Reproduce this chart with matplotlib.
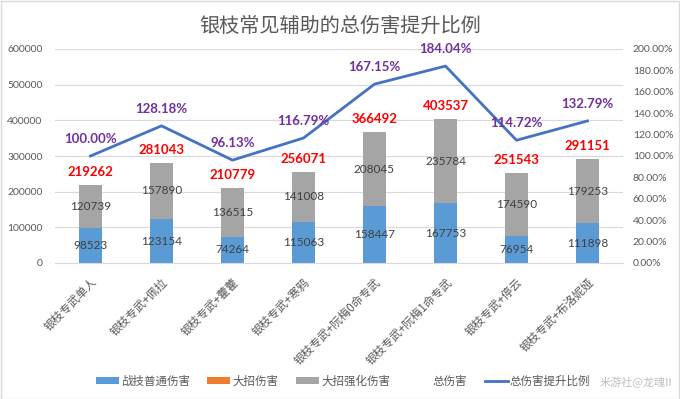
import numpy as np
import matplotlib
matplotlib.use("Agg")
import matplotlib.pyplot as plt
from matplotlib.patches import Patch, Rectangle
from matplotlib.lines import Line2D
from matplotlib.ticker import FuncFormatter, MultipleLocator

plt.rcParams['font.family'] = ['Noto Sans CJK SC', 'DejaVu Sans']

categories = ["银枝专武单人", "银枝专武+佩拉", "银枝专武+藿藿", "银枝专武+寒鸦",
              "银枝专武+阮梅0命专武", "银枝专武+阮梅1命专武", "银枝专武+停云", "银枝专武+布洛妮娅"]
skill_dmg = [98523, 123154, 74264, 115063, 158447, 167753, 76954, 111898]
ult_dmg = [0, 0, 0, 0, 0, 0, 0, 0]
ult_enh_dmg = [120739, 157890, 136515, 141008, 208045, 235784, 174590, 179253]
total_dmg = [219262, 281043, 210779, 256071, 366492, 403537, 251543, 291151]
increase_pct = [100.00, 128.18, 96.13, 116.79, 167.15, 184.04, 114.72, 132.79]

series_names = ["战技普通伤害", "大招伤害", "大招强化伤害", "总伤害", "总伤害提升比例"]
title = "银枝常见辅助的总伤害提升比例"
watermark = "米游社@龙魂II"

c_blue = "#5B9BD5"
c_orange = "#ED7D31"
c_gray = "#A5A5A5"
c_line = "#4472C4"
c_text = "#595959"
c_grid = "#D9D9D9"
num_font = "Lato"

fig = plt.figure(figsize=(6.8, 3.99), dpi=100)
fig.patch.set_facecolor("white")
fig.patches.append(Rectangle((0.5/680, 0.5/399), 1 - 1.5/680, 1 - 1.5/399, transform=fig.transFigure,
                             fill=False, edgecolor=c_grid, linewidth=1.0))

ax = fig.add_axes([55/680, 136/399, 568/680, 214/399])
x = np.arange(len(categories))
w = 0.31
blue = np.array(skill_dmg)
orange = np.array(ult_dmg)
gray = np.array(ult_enh_dmg)

ax.bar(x, blue, w, color=c_blue, zorder=2)
ax.bar(x, orange, w, bottom=blue, color=c_orange, zorder=2)
ax.bar(x, gray, w, bottom=blue + orange, color=c_gray, zorder=2)

ax.set_xlim(-0.5, len(categories) - 0.5)
ax.set_ylim(0, 600000)
ax.yaxis.set_major_locator(MultipleLocator(100000))
ax.yaxis.grid(True, color=c_grid, linewidth=0.8)
ax.set_axisbelow(True)
for s in ["top", "left", "right"]:
    ax.spines[s].set_visible(False)
ax.spines["bottom"].set_color(c_grid)
ax.tick_params(axis="both", length=0)
ax.tick_params(axis="y", pad=9, labelcolor=c_text)
for lab in ax.get_yticklabels():
    lab.set_fontfamily(num_font)
    lab.set_fontsize(7.5)
ax.set_xticks(x)
ax.set_xticklabels(categories, rotation=45, ha="right", rotation_mode="anchor",
                   fontsize=8.3, color=c_text)
ax.tick_params(axis="x", pad=9)

for i in range(len(categories)):
    ax.text(x[i], blue[i] / 2, f"{skill_dmg[i]}", ha="center", va="center",
            fontsize=8.5, color="#404040", family=num_font, zorder=3)
    ax.text(x[i], blue[i] + orange[i] + gray[i] / 2, f"{ult_enh_dmg[i]}", ha="center", va="center",
            fontsize=8.5, color="#404040", family=num_font, zorder=3)
    ax.annotate(f"{total_dmg[i]}", (x[i], blue[i] + orange[i] + gray[i]), xytext=(0, 5),
                textcoords="offset points", ha="center", va="bottom", fontsize=9.5,
                fontweight="bold", color="#FF0000", family=num_font, zorder=3)

ax2 = ax.twinx()
pct = np.array(increase_pct) / 100
ax2.plot(x, pct, color=c_line, linewidth=2.0, zorder=4)
ax2.set_ylim(0, 2.0)
ax2.yaxis.set_major_locator(MultipleLocator(0.2))
ax2.yaxis.set_major_formatter(FuncFormatter(lambda v, p: f"{v*100:.2f}%"))
for s in ["top", "left", "right", "bottom"]:
    ax2.spines[s].set_visible(False)
ax2.tick_params(axis="y", length=0, pad=7, labelcolor=c_text)
for lab in ax2.get_yticklabels():
    lab.set_fontfamily(num_font)
    lab.set_fontsize(7.5)
for i in range(len(categories)):
    ax2.annotate(f"{increase_pct[i]:.2f}%", (x[i], pct[i]), xytext=(0, 8),
                 textcoords="offset points", ha="center", va="bottom", fontsize=9.5,
                 fontweight="bold", color="#7030A0", family=num_font, zorder=5)

fig.text(0.5, 1 - 26/399, title, ha="center", va="center", fontsize=14.5, color=c_text)

handles = [Patch(facecolor=c_blue), Patch(facecolor=c_orange), Patch(facecolor=c_gray),
           Patch(facecolor="none", edgecolor="none"),
           Line2D([0], [0], color=c_line, linewidth=2.0)]
leg = fig.legend(handles, series_names, loc="center", bbox_to_anchor=(343/680, 1 - 381/399),
                 ncol=5, frameon=False, fontsize=8.3, handlelength=2.0, handleheight=0.55,
                 handletextpad=0.2, columnspacing=1.5)
for t in leg.get_texts():
    t.set_color(c_text)

fig.text(1 - 8/680, 1 - 382/399, watermark, ha="right", va="center", fontsize=8, color="#BFBFBF")

fig.savefig("out.png", dpi=100)
